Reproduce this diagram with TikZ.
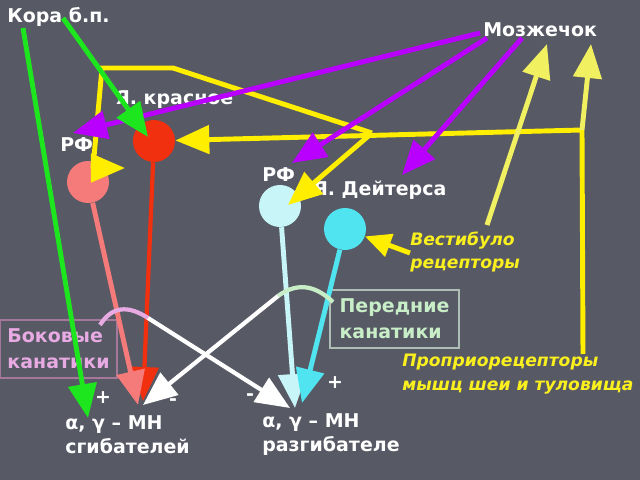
\documentclass[tikz,border=0pt]{standalone}
\usepackage{fontspec}
\setmainfont{DejaVu Sans}
\usetikzlibrary{arrows.meta}

\definecolor{bgcol}{RGB}{87,89,101}
\definecolor{rednuc}{RGB}{240,48,14}
\definecolor{rfLcol}{RGB}{245,122,122}
\definecolor{rfRcol}{RGB}{200,245,248}
\definecolor{deitcol}{RGB}{80,228,240}
\definecolor{yelA}{RGB}{255,238,0}
\definecolor{yelB}{RGB}{240,240,96}
\definecolor{yelT}{RGB}{250,240,30}
\definecolor{purp}{RGB}{185,0,255}
\definecolor{grn}{RGB}{30,230,30}
\definecolor{boktext}{RGB}{232,170,226}
\definecolor{bokline}{RGB}{165,120,155}
\definecolor{pertext}{RGB}{200,238,200}
\definecolor{perline}{RGB}{175,190,180}

\begin{document}
\begin{tikzpicture}[
    x=0.025cm, y=-0.025cm,
    every node/.style={font=\bfseries\fontsize{13.5}{17}\selectfont, text=white, inner sep=0pt},
    neuron/.style={circle, minimum size=1.05cm},
    wire/.style={line width=3.5pt},
    bigtip/.style={-{Triangle[length=0.85cm,width=0.7cm]}},
    smalltip/.style={-{Triangle[length=0.65cm,width=0.58cm]}},
    yeltext/.style={font=\bfseries\itshape\fontsize{12.2}{17}\selectfont, text=yelT, anchor=west, align=left},
    tract/.style={draw, line width=0.8pt, minimum height=1.45cm, align=left, font=\bfseries\fontsize{13.5}{18.4}\selectfont},
]

\fill[bgcol] (0,0) rectangle (640,480);
\useasboundingbox (0,0) rectangle (640,480);

% Define nodes
\node[anchor=west] (kora) at (7,17) {Кора б.п.};
\node[anchor=west] (cereb) at (483,30) {Мозжечок};
\node[anchor=west] (redlbl) at (115,100) {Я. красное};
\node[anchor=west] (rfLlbl) at (60,145) {РФ};
\node[anchor=west] (rfRlbl) at (262,175) {РФ};
\node[anchor=west] (deitlbl) at (313,190) {Я. Дейтерса};

\node[neuron, fill=rednuc] (red) at (154,141) {};
\node[neuron, fill=rfLcol] (rfL) at (88,182) {};
\node[neuron, fill=rfRcol] (rfR) at (280,206) {};
\node[neuron, fill=deitcol] (deit) at (345,229) {};

\node[yeltext] (vest) at (410,252) {Вестибуло\\рецепторы};
\node[yeltext] (prop) at (402,374) {Проприорецепторы\\мышц шеи и туловища};

\node[tract, draw=bokline, text=boktext, minimum width=2.925cm] (bok) at (58.5,349) {Боковые\\канатики};
\node[tract, draw=perline, text=pertext, minimum width=3.225cm] (per) at (394.5,319) {Передние\\канатики};

\node[anchor=west, align=left] (mnL) at (65,435) {α, γ – МН\\сгибателей};
\node[anchor=west, align=left] (mnR) at (262,435) {α, γ – МН\\разгибателе};
\node (plusL) at (103,398) {+};
\node (minusL) at (173,402) {-};
\node (minusR) at (250,397) {-};
\node (plusR) at (335,383) {+};

% Free ends and bends
\coordinate (k1) at (23,28);
\coordinate (k2) at (63,18);
\coordinate (c1) at (480,33);
\coordinate (c2) at (487,38);
\coordinate (c3) at (522,38);
\coordinate (jn) at (372,133);
\coordinate (bendA) at (173,68);
\coordinate (bendB) at (102,68);
\coordinate (bendC) at (93,168);
\coordinate (corner) at (582,130);
\coordinate (propTop) at (583,354);
\coordinate (vestTop) at (487,225);
\coordinate (vestL) at (410,253);
\coordinate (cbL) at (547,44);
\coordinate (cbR) at (591,44);
\coordinate (bokOut) at (100,325);
\coordinate (bokBend) at (148,318);
\coordinate (perOut) at (333,302);
\coordinate (perBend) at (278,296);
\coordinate (tipG) at (88,418);
\coordinate (tipRedG) at (148,137);
\coordinate (tipRfLp) at (73,133);
\coordinate (tipRfRp) at (292,163);
\coordinate (tipDeitp) at (402,175);
\coordinate (tipRfLy) at (125,168);
\coordinate (tipRfRy) at (288,205);
\coordinate (tipL1) at (143,401);
\coordinate (tipL2) at (138,405);
\coordinate (tipL3) at (143,405);
\coordinate (tipR1) at (290,408);
\coordinate (tipR2) at (295,408);
\coordinate (tipR3) at (302,403);

% Draw connections
\draw[wire, yelA, bigtip] (corner) -- (red);
\draw[wire, yelA, bigtip] (jn) -- (bendA) -- (bendB) -- (bendC) -- (tipRfLy);
\draw[wire, yelA, bigtip] (jn) -- (tipRfRy);
\draw[wire, yelA] (propTop) -- (corner);
\draw[wire, yelB, bigtip] (corner) -- (cbR);
\draw[wire, yelB, bigtip] (vestTop) -- (cbL);
\draw[wire, yelA, smalltip] (vestL) -- (deit);

\draw[wire, purp, bigtip] (c1) -- (tipRfLp);
\draw[wire, purp, bigtip] (c2) -- (tipRfRp);
\draw[wire, purp, bigtip] (c3) -- (tipDeitp);

\draw[wire, grn, bigtip] (k2) -- (tipRedG);
\draw[wire, grn, bigtip] (k1) -- (tipG);

\draw[line width=3pt, rednuc, bigtip] (red) -- (tipL1);
\draw[wire, rfLcol, bigtip] (rfL) -- (tipL2);
\draw[wire, rfRcol, bigtip] (rfR) -- (tipR2);
\draw[wire, deitcol, bigtip] (deit) -- (tipR3);

\draw[line width=3pt, boktext] (bokOut) .. controls (112,306) and (128,305) .. (bokBend);
\draw[line width=3pt, white, bigtip] (bokBend) -- (tipR1);
\draw[line width=3pt, pertext] (perOut) .. controls (318,288) and (300,280) .. (perBend);
\draw[line width=3pt, white, bigtip] (perBend) -- (tipL3);

\end{tikzpicture}
\end{document}
